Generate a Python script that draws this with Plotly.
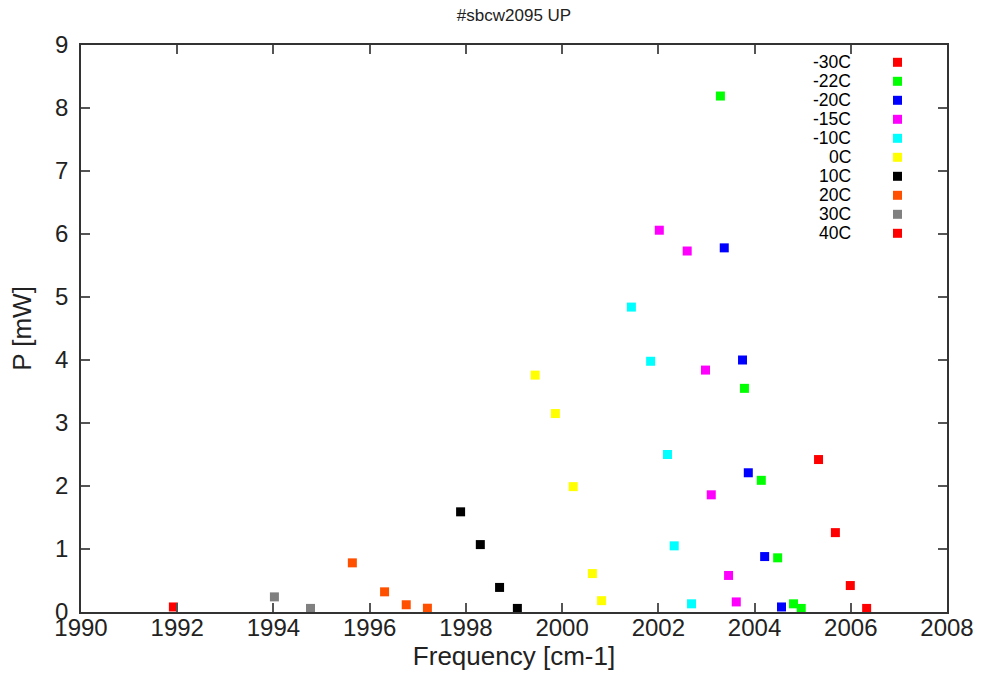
import plotly.graph_objects as go

# Peak power vs. frequency for each temperature
labels = ["-30C", "-22C", "-20C", "-15C", "-10C", "0C", "10C", "20C", "30C", "40C"]
colors = ["#ff0000", "#00ff00", "#0000ff", "#ff00ff", "#00ffff",
          "#ffff00", "#000000", "#ff5000", "#808080", "#ff0000"]

freq_m30 = [2005.33, 2005.68, 2005.99, 2006.33]
pow_m30 = [2.42, 1.26, 0.42, 0.057]
freq_m22 = [2003.29, 2003.79, 2004.14, 2004.48, 2004.81, 2004.97]
pow_m22 = [8.19, 3.55, 2.09, 0.86, 0.13, 0.057]
freq_m20 = [2003.37, 2003.75, 2003.87, 2004.21, 2004.56]
pow_m20 = [5.78, 4.00, 2.21, 0.88, 0.08]
freq_m15 = [2002.02, 2002.60, 2002.98, 2003.10, 2003.46, 2003.62]
pow_m15 = [6.06, 5.73, 3.84, 1.86, 0.58, 0.16]
freq_m10 = [2001.44, 2001.84, 2002.19, 2002.33, 2002.69]
pow_m10 = [4.84, 3.98, 2.50, 1.05, 0.13]
freq_0 = [1999.44, 1999.86, 2000.23, 2000.63, 2000.82]
pow_0 = [3.76, 3.15, 1.99, 0.61, 0.18]
freq_10 = [1997.89, 1998.30, 1998.70, 1999.07]
pow_10 = [1.59, 1.07, 0.39, 0.057]
freq_20 = [1995.64, 1996.31, 1996.76, 1997.20]
pow_20 = [0.78, 0.32, 0.115, 0.06]
freq_30 = [1994.02, 1994.77]
pow_30 = [0.24, 0.057]
freq_40 = [1991.92]
pow_40 = [0.08]

freqs = [freq_m30, freq_m22, freq_m20, freq_m15, freq_m10,
         freq_0, freq_10, freq_20, freq_30, freq_40]
powers = [pow_m30, pow_m22, pow_m20, pow_m15, pow_m10,
          pow_0, pow_10, pow_20, pow_30, pow_40]

x_ticks = list(range(1990, 2009, 2))
y_ticks = list(range(0, 10))

FONT = "Liberation Sans, Arial, sans-serif"
W, H = 984, 677
ML, MR, MT, MB = 81, 37, 45, 65
PW, PH = W - ML - MR, H - MT - MB

fig = go.Figure()
for name, col, fx, py in zip(labels, colors, freqs, powers):
    fig.add_trace(go.Scatter(
        x=fx, y=py, mode="markers", name=name,
        marker=dict(symbol="square", size=9, color=col, line=dict(width=0)),
        showlegend=False,
    ))

# key: right-aligned label with a square sample to its right
for i, (name, col) in enumerate(zip(labels, colors)):
    py_px = 62.3 + 19.0 * i
    yp = 1 - (py_px - MT) / PH
    fig.add_annotation(
        x=(853 - ML) / PW, y=yp, xref="paper", yref="paper",
        text=name, showarrow=False, xanchor="right", yanchor="middle",
        font=dict(family=FONT, size=17.5, color="#000000"),
    )
    fig.add_shape(
        type="rect", xref="paper", yref="paper",
        xsizemode="pixel", ysizemode="pixel",
        xanchor=(897.5 - ML) / PW, yanchor=yp,
        x0=-4.5, x1=4.5, y0=-4.5, y1=4.5,
        fillcolor=col, line=dict(width=0),
    )

axis_common = dict(
    showline=True, linecolor="#333333", linewidth=1.5, mirror="allticks",
    ticks="inside", ticklen=9, tickwidth=1.5, tickcolor="#555555",
    showgrid=False, zeroline=False, automargin=False,
    tickfont=dict(family=FONT, size=24, color="#222222"),
)

fig.update_layout(
    width=W, height=H,
    margin=dict(l=ML, r=MR, t=MT, b=MB),
    plot_bgcolor="white", paper_bgcolor="white",
    title=dict(text="#sbcw2095 UP", x=0.5 * (ML + W - MR) / W, y=1 - 15 / H,
               xanchor="center", yanchor="middle",
               font=dict(family=FONT, size=17, color="#222222")),
    xaxis=dict(range=[1990, 2008], tickvals=x_ticks,
               ticktext=[str(v) for v in x_ticks],
               title=dict(text="Frequency [cm-1]", standoff=0,
                          font=dict(family=FONT, size=26, color="#222222")),
               ticklabelstandoff=-7,
               **axis_common),
    yaxis=dict(range=[0, 9], tickvals=y_ticks,
               ticktext=[str(v) for v in y_ticks],
               title=dict(text="P [mW]", standoff=16,
                          font=dict(family=FONT, size=26, color="#222222")),
               ticklabelstandoff=6,
               **axis_common),
)

fig.write_html("out.html")
